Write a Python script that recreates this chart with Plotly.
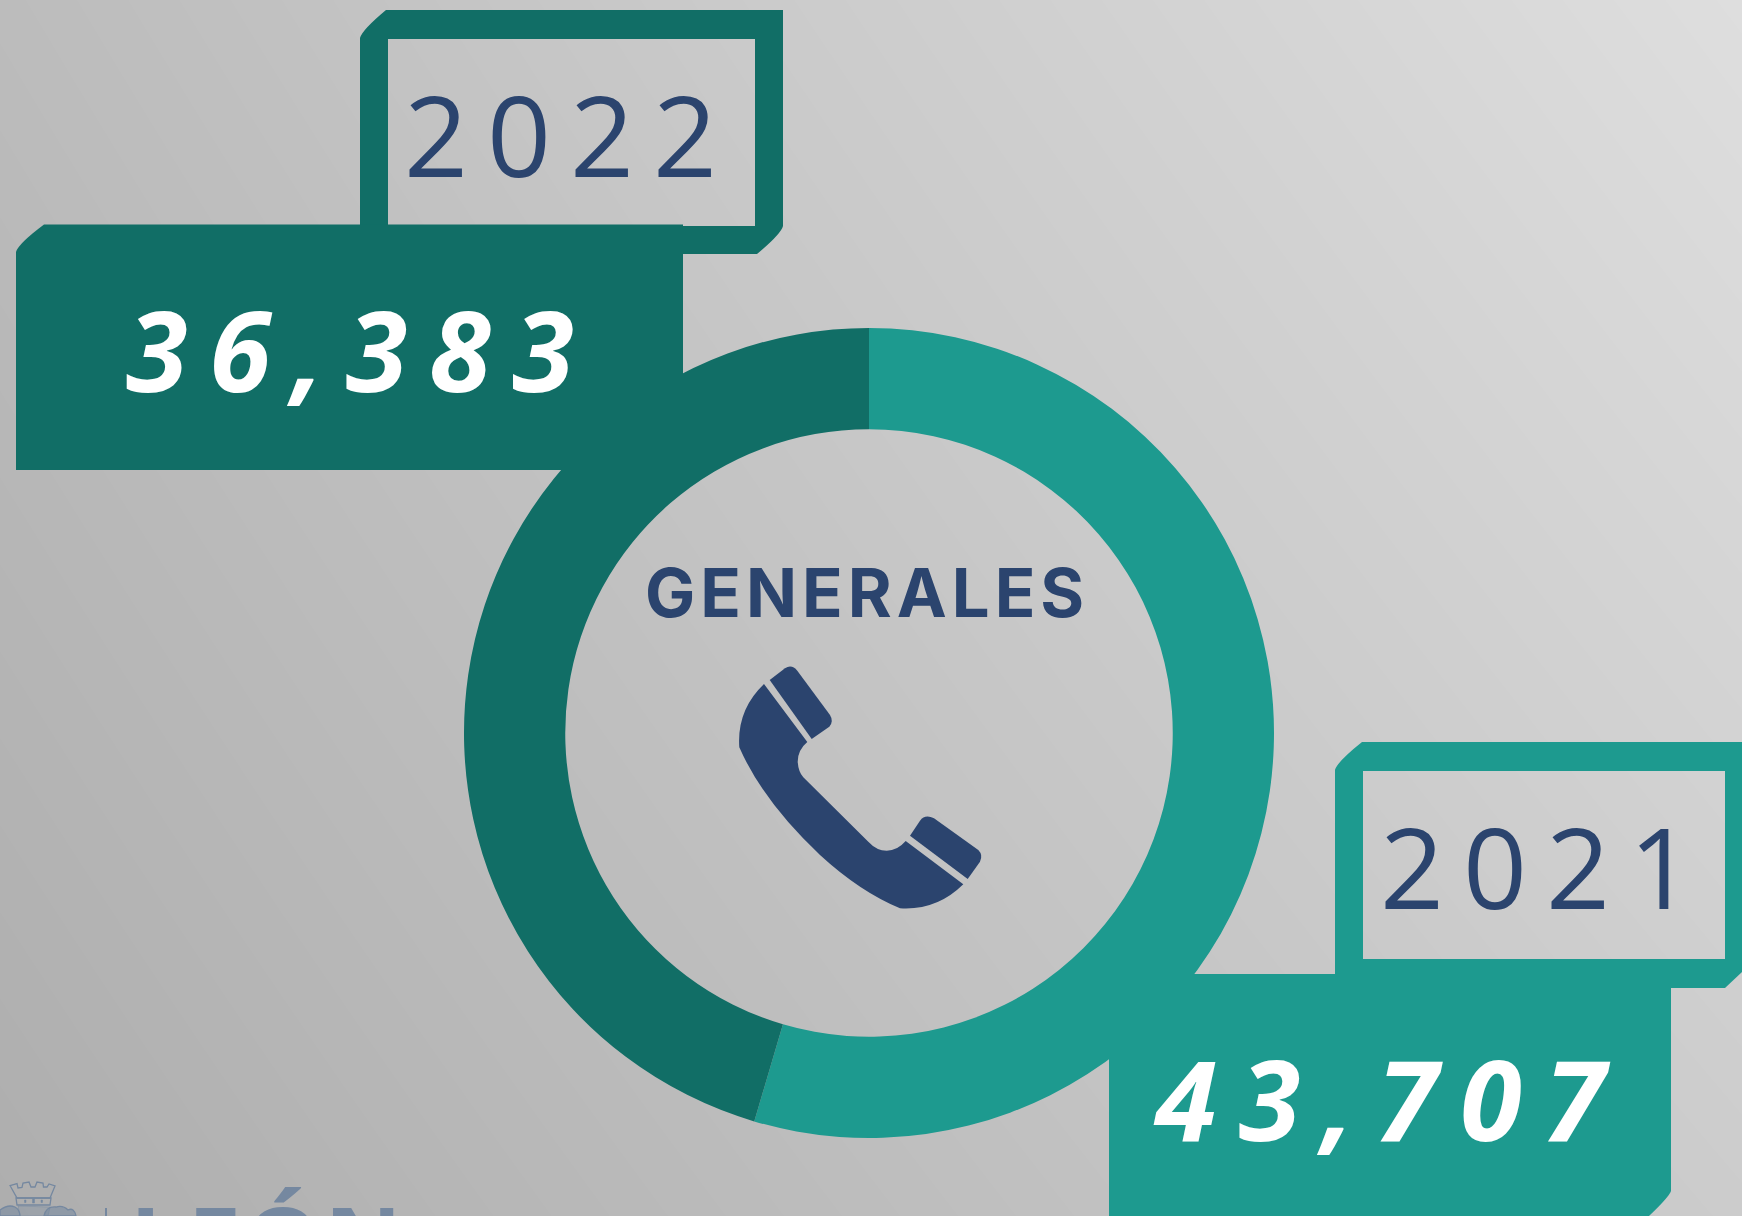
import plotly.graph_objects as go

W, H = 1742, 1216

# --- data ---
years = ["2021", "2022"]
totals = [43707, 36383]
total_labels = ["43,707", "36,383"]
slice_colors = ["#1d9a8f", "#116e66"]
title = "GENERALES"
logo_text = "LEÓN"

NAVY = "#2b446e"
LOGO = "#7588a0"
# background corner greys (top-left, top-right, bottom-left, bottom-right)
bg_top = [188, 222]
bg_bottom = [174, 204]

CX, CY, R = 869, 733, 405

fig = go.Figure()

fig.add_trace(go.Heatmap(
    x=[0, W], y=[0, H], z=[bg_top, bg_bottom], zsmooth="best",
    zmin=0, zmax=255, showscale=False, hoverinfo="skip",
    colorscale=[[0, "rgb(0,0,0)"], [1, "rgb(255,255,255)"]],
))

fig.add_trace(go.Pie(
    labels=years, values=totals, hole=0.75, sort=False, direction="clockwise",
    rotation=0, textinfo="none", hoverinfo="label+value", showlegend=False,
    marker=dict(colors=slice_colors, line=dict(width=0)),
    domain=dict(x=[(CX - R) / W, (CX + R) / W], y=[1 - (CY + R) / H, 1 - (CY - R) / H]),
))


def shape(path, color, **kw):
    fig.add_shape(type="path", path=path, fillcolor=color, line=dict(width=0),
                  layer="above", xref="x", yref="y", **kw)


# 2022 frame
shape("M 360 38 Q 362 30 386 10 L 783 10 L 783 226 Q 781 234 757 254 L 683 254 L 683 225 L 360 225 Z "
      "M 388 39 L 388 225 L 755 226 L 755 39 Z", slice_colors[1], fillrule="evenodd")
# 2022 tab
shape("M 16 252 Q 18 244 44 224.5 L 683 224.5 L 683 470 L 16 470 Z", slice_colors[1])
# 2021 frame
shape("M 1335 770 Q 1337 762 1362 742 L 1742 742 L 1742 972 L 1725 988 L 1335 988 Z "
      "M 1363 771 L 1363 959 L 1725 959 L 1725 771 Z", slice_colors[0], fillrule="evenodd")
# 2021 tab
shape("M 1109 974 L 1671 974 L 1671 1191 Q 1669 1197 1649 1216 L 1109 1216 Z", slice_colors[0])


def to_full(s):
    """Phone icon outline is written in a 3x local grid."""
    out = s.split()
    res, i = [], 0
    while i < len(out):
        t = out[i]
        if t.isalpha():
            res.append(t)
            i += 1
        else:
            res.append(f"{620 + float(out[i]) / 3:.1f} {540 + float(out[i + 1]) / 3:.1f}")
            i += 2
    return " ".join(res)


shape(to_full("M 432 432 L 562 606 Q 533 630 533 665 Q 535 695 550 712 L 745 905 Q 770 932 800 932 "
              "Q 832 932 857 903 L 1030 1033 Q 950 1112 840 1105 Q 720 1055 600 945 Q 430 785 358 622 "
              "Q 350 510 432 432 Z"), NAVY)
shape(to_full("M 449 420 L 495 385 Q 515 372 532 392 L 630 525 Q 642 545 628 560 L 575 597 Z"), NAVY)
shape(to_full("M 870 887 L 900 842 Q 915 822 942 835 L 1075 930 Q 1090 945 1080 965 L 1043 1017 Z"), NAVY)


def logo_outline(path, width=1.3, fill="rgba(0,0,0,0)"):
    fig.add_shape(type="path", path=path, line=dict(color=LOGO, width=width), fillcolor=fill,
                  layer="above", xref="x", yref="y")


# faint logo: crown, band, lions and separator
logo_outline("M 10 1185.5 L 17 1183.5 L 18 1188 L 22 1187.5 L 23 1183 L 29 1182 L 31 1187 L 35 1187 L 37 1182 "
             "L 43 1183 L 43.5 1187 L 47 1187 L 49 1184 L 55 1186 L 50 1198 L 17 1198 Z")
logo_outline("M 16 1198 L 51 1198 L 50 1205 L 17 1205 Z")
for dot in ["M 24.5 1200 L 26 1200 L 26 1202.5 L 24.5 1202.5 Z",
            "M 32.5 1198.5 L 34.5 1198.5 L 34.5 1203 L 32.5 1203 Z",
            "M 41 1200 L 42.5 1200 L 42.5 1202.5 L 41 1202.5 Z"]:
    logo_outline(dot, width=0.5, fill=LOGO)
logo_outline("M 0 1210 Q 8 1204 15 1207 Q 20 1210 20 1216 L 0 1216 Z", fill="rgba(117,136,160,0.55)")
logo_outline("M 44 1216 Q 46 1206 56 1207 Q 63 1205 68 1210 Q 74 1207 76 1216 Z", fill="rgba(117,136,160,0.55)")
logo_outline("M 18 1206 L 50 1207 L 48 1216 L 20 1216 Z", width=0.5, fill="rgba(117,136,160,0.3)")
fig.add_shape(type="line", x0=106, x1=106, y0=1208, y1=1216, line=dict(color=LOGO, width=2),
              layer="above", xref="x", yref="y")


def text(x, y, s, size, color, weight="normal", style="normal", family="Open Sans",
         spacing=0, xanchor="center", yanchor="middle"):
    body = f'<span style="letter-spacing:{spacing}px">{s}</span>'
    fig.add_annotation(x=x, y=y, text=body, showarrow=False, xanchor=xanchor, yanchor=yanchor,
                       xref="x", yref="y", align="left",
                       font=dict(family=family, size=size, color=color, weight=weight, style=style))


text(570, 133, years[1], 112, NAVY, weight=500, spacing=19)
text(1546, 865, years[0], 112, NAVY, weight=500, spacing=19)
text(360, 348, total_labels[1], 112, "#ffffff", weight="bold", style="italic", spacing=21.5)
text(1390, 1097, total_labels[0], 112, "#ffffff", weight="bold", style="italic", spacing=22)
text(867, 592, title, 67, NAVY, weight=700, family="Inter", spacing=5)
text(128, 1172, logo_text, 95, LOGO, weight="bold", spacing=4, xanchor="left", yanchor="top")

fig.update_xaxes(range=[0, W], visible=False, fixedrange=True, showgrid=False, zeroline=False)
fig.update_yaxes(range=[H, 0], visible=False, fixedrange=True, showgrid=False, zeroline=False)
fig.update_layout(width=W, height=H, margin=dict(l=0, r=0, t=0, b=0),
                  paper_bgcolor="#c4c4c4", plot_bgcolor="#c4c4c4", showlegend=False)

fig.write_html("out.html", config=dict(displayModeBar=False),
               post_script="document.body.style.margin='0';document.body.style.overflow='hidden';")
